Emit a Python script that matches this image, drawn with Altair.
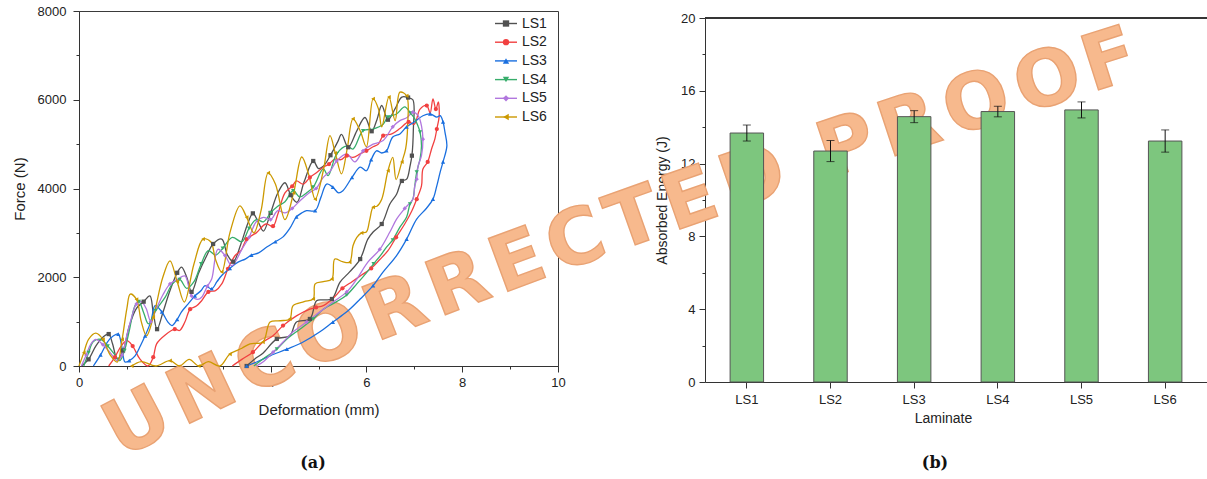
import altair as alt
import numpy as np
import pandas as pd

# ---------------- data ----------------
SERIES = ["LS1", "LS2", "LS3", "LS4", "LS5", "LS6"]
COLORS = ["#515151", "#F14040", "#1A6FDF", "#37AD6B", "#B177DE", "#CC9900"]
SHAPES = ["square", "circle", "triangle-up", "triangle-down", "diamond", "triangle-left"]

LS1_def = [0.05, 0.2, 0.35, 0.5, 0.62, 0.7, 0.8, 0.92, 1.05, 1.2, 1.35, 1.48, 1.55, 1.63, 1.75, 1.9, 2.05, 2.14,
           2.25, 2.35, 2.5, 2.65, 2.8, 2.98, 3.1, 3.22, 3.38, 3.52, 3.63, 3.74, 3.85, 4.0, 4.15, 4.3, 4.42, 4.55,
           4.7, 4.89, 5.0, 5.1, 5.25, 5.4, 5.48, 5.62, 5.8, 5.97, 6.11, 6.22, 6.32, 6.45, 6.6, 6.74, 6.87, 6.97,
           6.98, 6.95, 6.91, 6.84, 6.74, 6.63, 6.49, 6.32, 6.14, 6.03, 5.87, 5.65, 5.45, 5.28, 5.1, 4.96, 4.82,
           4.54, 4.4, 4.13, 3.84, 3.67, 3.5]
LS1_force = [0, 150, 450, 650, 720, 500, 160, 350, 900, 1300, 1450, 1580, 1200, 830, 1200, 1700, 2100, 2230,
             2000, 1670, 2100, 2450, 2750, 2860, 2500, 2350, 2750, 3200, 3440, 3250, 3040, 3450, 3900, 4130, 3850,
             3690, 4150, 4620, 4450, 4500, 4750, 5050, 5220, 4930, 5300, 5600, 5290, 5550, 5870, 5550, 5800, 6060,
             6050, 6000,
             5330, 4740, 4500, 4210, 4170, 3870, 3650, 3200, 3020, 2860, 2410, 2120, 1890, 1510, 1490, 1470, 1060,
             990, 680, 610, 290, 160, 0]

LS2_def = [0.62, 0.75, 0.88, 1.0, 1.12, 1.27, 1.44, 1.55, 1.62, 1.8, 2.0, 2.1, 2.21, 2.32, 2.45, 2.56, 2.7, 2.85,
           2.98, 3.11, 3.26, 3.38, 3.5, 3.7, 3.9, 4.05, 4.15, 4.3, 4.45, 4.54, 4.68, 4.82, 4.95, 5.1, 5.22, 5.34,
           5.47, 5.59, 5.72, 5.87, 6.0, 6.14, 6.25, 6.35, 6.53, 6.7, 6.88, 7.0, 7.12, 7.26, 7.33, 7.39, 7.45, 7.5,
           7.52, 7.47, 7.43, 7.36, 7.28, 7.18, 7.15, 7.05, 6.95, 6.8, 6.62, 6.45, 6.28, 6.1, 5.9, 5.7, 5.5, 5.3,
           5.1, 4.95, 4.82, 4.54, 4.26, 4.05, 3.84, 3.63, 3.4, 3.2]
LS2_force = [0, 200, 450, 570, 450, 160, 0, 200, 500, 700, 830, 800, 990, 1280, 1350, 1470, 1670, 1700, 1850,
             2190, 2490, 2600, 2860, 3000, 3200, 3150, 3420, 3900, 4050, 4170, 4100, 4250, 4350, 4480, 4550, 4660,
             4650, 4740, 4700, 4780, 4850, 4940, 5000, 5190, 5230, 5350, 5500, 5450, 5790, 5870, 5700, 6020, 5790,
             5950,
             5640, 5340, 5120, 4890, 4600, 4440, 4060, 3760, 3500, 3200, 2900, 2600, 2400, 2200, 2050, 1900, 1750,
             1520, 1360, 1320, 1280, 1130, 910, 680, 540, 310, 150, 0]

LS3_def = [0.3, 0.45, 0.6, 0.72, 0.82, 0.9, 0.96, 1.05, 1.17, 1.28, 1.38, 1.5, 1.59, 1.73, 1.85, 1.94, 2.05, 2.14,
           2.28, 2.42, 2.55, 2.63, 2.77, 2.88, 2.98, 3.15, 3.32, 3.47, 3.6, 3.75, 3.92, 4.1, 4.26, 4.4, 4.54, 4.65,
           4.75, 4.93, 5.05, 5.17, 5.3, 5.42, 5.51, 5.7, 5.87, 6.0, 6.1, 6.21, 6.32, 6.42, 6.55, 6.7, 6.84, 7.0,
           7.18, 7.33, 7.47, 7.54, 7.6, 7.64, 7.68,
           7.6, 7.54, 7.47, 7.39, 7.25, 7.05, 6.84, 6.63, 6.35, 6.14, 5.87, 5.59, 5.3, 5.03, 4.68, 4.34, 3.99,
           3.71, 3.5]
LS3_force = [0, 250, 550, 680, 720, 400, 90, 120, 230, 450, 680, 1000, 1360, 1220, 1000, 910, 1050, 1220, 1400,
             1580, 1700, 1810, 1740, 1900, 2040, 2200, 2340, 2410, 2500, 2550, 2680, 2800, 2910, 3100, 3360, 3450,
             3500, 3500, 3800, 4100, 4030, 3900, 3950, 4250, 4480, 4400, 4650, 4850, 4800, 4850, 5160, 5230, 5390,
             5500, 5640, 5680, 5610, 5640, 5500, 5270, 4960,
             4600, 4370, 4060, 3760, 3550, 3310, 2860, 2490, 2120, 1810, 1510, 1220, 990, 770, 540, 380, 230, 90, 0]

LS4_def = [0.1, 0.2, 0.3, 0.45, 0.6, 0.75, 0.85, 0.95, 1.05, 1.17, 1.25, 1.35, 1.45, 1.6, 1.8, 1.95, 2.1, 2.25,
           2.4, 2.55, 2.7, 2.85, 3.0, 3.2, 3.4, 3.55, 3.7, 3.85, 4.0, 4.15, 4.3, 4.47, 4.61, 4.75, 4.89, 5.1, 5.2,
           5.38, 5.59, 5.72, 5.93, 6.14, 6.35, 6.45, 6.63, 6.8, 6.92, 7.01,
           7.08, 7.12, 7.15, 7.12, 7.05, 7.01, 6.97, 6.91, 6.84, 6.7, 6.55, 6.42, 6.3, 6.15, 6.0, 5.8, 5.59, 5.38,
           5.1, 4.89, 4.61, 4.34, 4.13, 3.84, 3.65]
LS4_force = [0, 300, 550, 600, 450, 250, 120, 350, 800, 1360, 1450, 1200, 950, 1250, 1550, 1850, 1950, 1750,
             1900, 2300, 2600, 2500, 2650, 2900, 2800, 3100, 3300, 3250, 3450, 3600, 3700, 3950, 3810, 3900, 4030,
             4440, 4290, 4780, 4960, 4890, 5300, 5340, 5450, 5610, 5680, 5840, 5700, 5570,
             5400, 5270, 4960, 4670, 4370, 4060, 3760, 3650, 3360, 3130, 2840, 2680, 2500, 2300, 2100, 1850, 1600,
             1450, 1280, 1060, 830, 610, 380, 160, 0]

LS5_def = [0.05, 0.15, 0.25, 0.35, 0.5, 0.65, 0.8, 0.9, 1.0, 1.1, 1.2, 1.3, 1.4, 1.5, 1.6, 1.75, 1.9, 2.05, 2.21,
           2.35, 2.48, 2.56, 2.68, 2.77, 2.9, 3.05, 3.19, 3.4, 3.55, 3.7, 3.85, 4.0, 4.15, 4.3, 4.45, 4.61, 4.8,
           4.95, 5.1, 5.25, 5.38, 5.59, 5.76, 5.93, 6.14, 6.35, 6.55, 6.7, 6.85, 6.97, 7.08,
           7.15, 7.18, 7.15, 7.08, 7.05, 7.01, 6.97, 6.8, 6.63, 6.49, 6.28, 6.03, 5.8, 5.59, 5.3, 5.03, 4.75,
           4.47, 4.26, 4.05, 3.84, 3.7]
LS5_force = [0, 250, 500, 600, 480, 300, 120, 250, 700, 1100, 1400, 1450, 1300, 1000, 1250, 1600, 1850, 1950,
             2030, 1580, 1500, 1550, 1800, 1960, 2630, 2490, 2260, 2630, 2900, 3250, 3350, 3300, 3500, 3450, 3550,
             3720, 3900, 4000, 4250, 4400, 4620, 4780, 4600, 4850, 5000, 5080, 5390, 5530, 5600, 5720, 5640,
             5410, 5110, 4740, 4510, 4210, 4060, 3760, 3550, 3310, 3020, 2630, 2340, 1960, 1670, 1440, 1220, 990,
             770, 540, 310, 90, 0]

LS6_def = [0.0, 0.1, 0.2, 0.35, 0.5, 0.65, 0.8, 0.9, 1.0, 1.07, 1.2, 1.3, 1.41, 1.55, 1.75, 1.9, 2.05, 2.2, 2.4,
           2.59, 2.75, 2.85, 2.98, 3.15, 3.36, 3.5, 3.65, 3.8, 3.95, 4.1, 4.3, 4.48, 4.65, 4.8, 4.93, 5.1, 5.24,
           5.35, 5.48, 5.6, 5.72, 5.87, 6.0, 6.14, 6.25, 6.32, 6.47, 6.6, 6.7, 6.84,
           6.86, 6.82, 6.74, 6.62, 6.55, 6.45, 6.32, 6.22, 6.14, 6.07, 6.0, 5.9, 5.8, 5.72, 5.65, 5.5, 5.34, 5.28,
           5.1, 4.93, 4.89, 4.7, 4.47, 4.4, 4.2, 3.99, 3.84, 3.57, 3.4, 3.15, 2.94, 2.7, 2.5, 2.3, 2.1, 1.9, 1.6,
           1.3, 1.1]
LS6_force = [0, 300, 600, 740, 600, 250, 90, 600, 1300, 1620, 1500, 1000, 680, 1100, 2000, 2370, 1900, 1440,
             2300, 2860, 2800, 2400, 2120, 3000, 3610, 3350, 3000, 3500, 4350, 4100, 3300, 3900, 4710, 4300, 3760,
             4400, 5190, 4800, 4330, 4900, 5570, 5300, 4940, 6020, 5800, 5390, 6060, 5530, 6170, 6090,
             5400, 4900, 4600, 4200, 4700, 4400, 3760, 3600, 3580, 3300, 3020, 3000, 2900, 2710, 2340, 2350, 2410,
             1960, 1900, 1850, 1510, 1450, 1360, 1060, 1020, 990, 540, 500, 400, 270, 0, 100, 0, 150, 0, 120, 0,
             100, 0]

DEF_TICKS = [0, 2, 4, 6, 8, 10]
DEF_MINOR = [1, 3, 5, 7, 9]
FORCE_TICKS = [0, 2000, 4000, 6000, 8000]
FORCE_MINOR = [1000, 3000, 5000, 7000]

LAMINATES = ["LS1", "LS2", "LS3", "LS4", "LS5", "LS6"]
ENERGY = [13.68, 12.69, 14.58, 14.86, 14.95, 13.24]
ENERGY_SD = [0.44, 0.58, 0.33, 0.29, 0.44, 0.61]
ENERGY_TICKS = [0, 4, 8, 12, 16, 20]
ENERGY_MINOR = [2, 6, 10, 14, 18]

WATERMARK = "UNCORRECTED PROOF"
PANEL_LABELS = ["(a)", "(b)"]

# ---------------- tables ----------------
rows = []
for name, xs, ys in zip(SERIES,
                        [LS1_def, LS2_def, LS3_def, LS4_def, LS5_def, LS6_def],
                        [LS1_force, LS2_force, LS3_force, LS4_force, LS5_force, LS6_force]):
    assert len(xs) == len(ys), name
    for i, (a, b) in enumerate(zip(xs, ys)):
        rows.append({"series": name, "i": i, "def": a, "force": b})
curves = pd.DataFrame(rows)

bars_df = pd.DataFrame({"lam": LAMINATES, "e": ENERGY, "sd": ENERGY_SD})
bars_df["lo"] = bars_df["e"] - bars_df["sd"]
bars_df["hi"] = bars_df["e"] + bars_df["sd"]

legend_df = pd.DataFrame({"series": SERIES})

# ---------------- layout (pixels) ----------------
FONT = "Liberation Sans"
INK = "#222222"
W_L, H_L = 479, 355            # left plot area (view)
R_X = [626, 1128]              # right panel horizontal range inside the view
R_Y = [371, 7]                 # right panel vertical range (0 -> 20)

# watermark letter placement along a gentle curve (page coords minus view origin)
ADV = {'U': 0.81, 'N': 0.84, 'C': 0.73, 'O': 0.85, 'R': 0.77, 'E': 0.68, 'T': 0.68, 'D': 0.83,
       ' ': 0.35, 'P': 0.73, 'F': 0.63}
P0 = np.array([138.0, 424.0]) - [79, 11]
P1 = np.array([382.0, 294.0]) - [79, 11]
P2 = np.array([1110.0, 62.0]) - [79, 11]
tt = np.linspace(0, 1, 4001)
curve = ((1 - tt) ** 2)[:, None] * P0 + (2 * tt * (1 - tt))[:, None] * P1 + (tt ** 2)[:, None] * P2
seg = np.sqrt(((curve[1:] - curve[:-1]) ** 2).sum(1))
arc = np.concatenate([[0.0], np.cumsum(seg)])
adv = np.array([ADV[c] for c in WATERMARK])
cent = np.cumsum(adv) - adv / 2
frac = (cent - cent[0]) / (cent[-1] - cent[0])
tpos = np.interp(frac * arc[-1], arc, tt)
pos = ((1 - tpos) ** 2)[:, None] * P0 + (2 * tpos * (1 - tpos))[:, None] * P1 + (tpos ** 2)[:, None] * P2
tan = (2 * (1 - tpos))[:, None] * (P1 - P0) + (2 * tpos)[:, None] * (P2 - P1)
ang = (np.degrees(np.arctan2(tan[:, 1], tan[:, 0])) + 360) % 360
em = arc[-1] / (cent[-1] - cent[0])
wm_df = pd.DataFrame({"ch": list(WATERMARK), "px": pos[:, 0], "py": pos[:, 1], "ang": ang})
wm_df = wm_df[wm_df["ch"] != " "]

# ---------------- watermark ----------------
wm = alt.Chart(wm_df).mark_text(
    font="DejaVu Sans", fontWeight="bold", fontSize=float(em * 0.88), align="center", baseline="middle",
    fill="#F7B98D", stroke="#E9A273", strokeWidth=1.4
).encode(
    x=alt.X("px:Q", scale=None, axis=None),
    y=alt.Y("py:Q", scale=None, axis=None),
    angle=alt.Angle("ang:Q", scale=None),
    text="ch:N",
)

# ---------------- left panel ----------------
color_enc = alt.Color("series:N", scale=alt.Scale(domain=SERIES, range=COLORS), legend=None)
shape_enc = alt.Shape("series:N", scale=alt.Scale(domain=SERIES, range=SHAPES), legend=None)
x_sc = alt.Scale(domain=[0, 10], nice=False)
y_sc = alt.Scale(domain=[0, 8000], nice=False)

lines = alt.Chart(curves).mark_line(strokeWidth=1.3, interpolate="catmull-rom").encode(
    x=alt.X("def:Q", scale=x_sc, axis=alt.Axis(
        orient="bottom", values=DEF_TICKS, format="d", title="Deformation (mm)", tickSize=6,
        labelPadding=4, titlePadding=13, titleFontSize=15, labelFlush=False, labelOverlap=False)),
    y=alt.Y("force:Q", scale=y_sc, axis=alt.Axis(
        orient="left", values=FORCE_TICKS, format="d", title="Force (N)", tickSize=6,
        labelPadding=7, titlePadding=10, titleFontSize=15, labelFlush=False, labelOverlap=False)),
    color=color_enc,
    order=alt.Order("i:Q"),
)

marks = alt.Chart(curves).transform_filter("datum.i % 3 == 1").mark_point(
    filled=True, size=18, opacity=1
).encode(
    x=alt.X("def:Q", scale=x_sc, axis=None),
    y=alt.Y("force:Q", scale=y_sc, axis=None),
    color=color_enc,
    shape=shape_enc,
)

minor_left = alt.Chart(curves).mark_point(opacity=0).encode(
    x=alt.X("def:Q", scale=x_sc, axis=alt.Axis(
        orient="bottom", values=DEF_MINOR, labels=False, domain=False, tickSize=3, title=None)),
    y=alt.Y("force:Q", scale=y_sc, axis=alt.Axis(
        orient="left", values=FORCE_MINOR, labels=False, domain=False, tickSize=3, title=None)),
)

left = alt.layer(lines, marks, minor_left).resolve_axis(x="independent", y="independent")

# manual legend (inside top-right of left panel)
leg_y = alt.Y("series:N", scale=alt.Scale(type="point", domain=SERIES, range=[12.5, 106], padding=0), axis=None)
leg_line = alt.Chart(legend_df).mark_rule(strokeWidth=1.4).encode(
    x=alt.value(416), x2=alt.value(438), y=leg_y, color=color_enc)
leg_pt = alt.Chart(legend_df).mark_point(filled=True, size=40, opacity=1).encode(
    x=alt.value(427), y=leg_y, color=color_enc, shape=shape_enc)
leg_txt = alt.Chart(legend_df).mark_text(
    align="left", baseline="middle", font=FONT, fontSize=14, color=INK
).encode(x=alt.value(443), y=leg_y, text="series:N")
legend = alt.layer(leg_line, leg_pt, leg_txt)

# ---------------- right panel ----------------
xb = alt.Scale(domain=LAMINATES, range=R_X, paddingInner=0.6, paddingOuter=0.3)
yb = alt.Scale(domain=[0, 20], range=R_Y, nice=False)

bars = alt.Chart(bars_df).mark_bar(fill="#7DC67E", stroke="#555555", strokeWidth=1).encode(
    x=alt.X("lam:N", scale=xb, sort=LAMINATES, axis=alt.Axis(
        orient="bottom", offset=16, labelAngle=0, title="Laminate", tickSize=6, labelPadding=5,
        titlePadding=5, titleFontSize=14, titleX=864)),
    y=alt.Y("e:Q", scale=yb, axis=alt.Axis(
        orient="left", offset=-626, values=ENERGY_TICKS, format="d", title="Absorbed Energy (J)",
        tickSize=6, labelPadding=4, titlePadding=11, titleFontSize=14, labelFlush=False,
        labelOverlap=False)),
)
err = alt.Chart(bars_df).mark_rule(color="#111111", strokeWidth=1).encode(
    x=alt.X("lam:N", scale=xb, sort=LAMINATES),
    y=alt.Y("lo:Q", scale=yb, axis=None), y2="hi:Q")
cap_lo = alt.Chart(bars_df).mark_tick(color="#111111", size=8, thickness=1).encode(
    x=alt.X("lam:N", scale=xb, sort=LAMINATES), y=alt.Y("lo:Q", scale=yb, axis=None))
cap_hi = alt.Chart(bars_df).mark_tick(color="#111111", size=8, thickness=1).encode(
    x=alt.X("lam:N", scale=xb, sort=LAMINATES), y=alt.Y("hi:Q", scale=yb, axis=None))
minor_right = alt.Chart(bars_df).mark_point(opacity=0).encode(
    y=alt.Y("e:Q", scale=yb, axis=alt.Axis(
        orient="left", offset=-626, values=ENERGY_MINOR, labels=False, domain=False, tickSize=3,
        title=None)))
top_line = alt.Chart(bars_df).mark_rule(color="#333333", strokeWidth=1).encode(
    x=alt.value(R_X[0]), x2=alt.value(R_X[1]), y=alt.Y(datum=20, scale=yb, axis=None))

right = alt.layer(bars, err, cap_lo, cap_hi, minor_right, top_line).resolve_axis(y="independent")

# ---------------- panel labels ----------------
lab_a = alt.Chart(pd.DataFrame({"t": [PANEL_LABELS[0]]})).mark_text(
    font="DejaVu Serif", fontWeight="bold", fontSize=16, color="#111111", baseline="middle"
).encode(x=alt.value(234), y=alt.value(452), text="t:N")
lab_b = alt.Chart(pd.DataFrame({"t": [PANEL_LABELS[1]]})).mark_text(
    font="DejaVu Serif", fontWeight="bold", fontSize=16, color="#111111", baseline="middle"
).encode(x=alt.value(856), y=alt.value(452), text="t:N")

chart = alt.layer(wm, left, legend, right, lab_a, lab_b).resolve_scale(
    x="independent", y="independent"
).properties(
    width=W_L, height=H_L,
    autosize=alt.AutoSizeParams(type="none"),
    padding={"left": 79, "top": 11, "right": 649, "bottom": 113},
    background="white",
).configure_view(
    stroke="#3a3a3a", strokeWidth=1
).configure_axis(
    labelFont=FONT, titleFont=FONT, labelFontSize=13, labelColor=INK, titleColor=INK,
    titleFontWeight="normal", domainColor="#333333", tickColor="#333333", grid=False,
)

chart.save("out.html", embed_options={"renderer": "svg", "actions": False})
